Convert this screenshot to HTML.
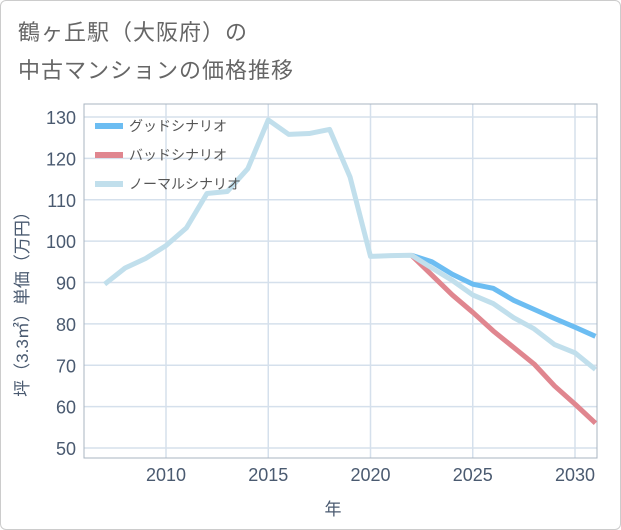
<!DOCTYPE html>
<html><head><meta charset="utf-8"><style>
body{margin:0;background:#fff;}
#wrap{position:relative;width:619px;height:528px;border:1px solid #ccc;border-radius:6px;background:#fff;font-family:"Liberation Sans","Noto Sans CJK JP",sans-serif;}
.t{position:absolute;left:17px;color:#666;font-size:22px;letter-spacing:1px;}
</style></head><body>
<div id="wrap">
<div class="t" style="top:14px">鶴ヶ丘駅（大阪府）の</div>
<div class="t" style="top:52px">中古マンションの価格推移</div>
<svg id="c" width="621" height="530" style="position:absolute;left:-1px;top:-1px"></svg>
</div>
<script>
const years=[2007,2008,2009,2010,2011,2012,2013,2014,2015,2016,2017,2018,2019,2020,2021,2022,2023,2024,2025,2026,2027,2028,2029,2030,2031];
const normal=[89.6,93.5,95.8,98.9,103.2,111.5,112,117.5,129.3,125.8,126,127,115.5,96.3,96.5,96.6,93.5,90.5,87,84.9,81.5,78.8,75,73,69];
const futureYears=[2022,2023,2024,2025,2026,2027,2028,2029,2030,2031];
const good=[96.6,95,92,89.6,88.6,85.7,83.5,81.3,79.2,77];
const bad=[96.6,91.8,87,82.8,78.3,74.3,70.3,65,60.6,56];
const yTicks=[50,60,70,80,90,100,110,120,130];
const xTicks=[2010,2015,2020,2025,2030];
const L=84,R=597,T=104,B=458;
const X=y=>166+(y-2010)*20.45;
const Y=v=>448-(v-50)*4.1375;
const s=document.getElementById('c');const NS='http://www.w3.org/2000/svg';
function mk(t,a,p){const e=document.createElementNS(NS,t);for(const k in a)e.setAttribute(k,a[k]);(p||s).appendChild(e);return e;}
yTicks.forEach(v=>{const l=mk('line',{x1:L,x2:R,y1:Y(v),y2:Y(v),stroke:'#d5e0ec','stroke-width':1.5});

const t=mk('text',{x:L-8,y:Y(v)+7,'text-anchor':'end','font-size':18,fill:'#4a5a70'});t.textContent=v;
});
xTicks.forEach(v=>{const l=mk('line',{x1:X(v),x2:X(v),y1:T,y2:B,stroke:'#d5e0ec','stroke-width':1.5});

const t=mk('text',{x:X(v),y:B+23,'text-anchor':'middle','font-size':18,fill:'#4a5a70'});t.textContent=v;
});
const fr=mk('rect',{x:L,y:T,width:R-L,height:B-T,fill:'none',stroke:'#aab4c0','stroke-width':1});

function line(xs,vs,c,name){const p=mk('polyline',{points:xs.map((y,i)=>X(y)+','+Y(vs[i])).join(' '),fill:'none',stroke:c,'stroke-width':5,'stroke-linejoin':'round'});
}
line(futureYears,good,'#6cbdf2','good-scenario-line');
line(futureYears,bad,'#e0868f','bad-scenario-line');
line(years,normal,'#c1dfec','normal-scenario-line');
[['グッドシナリオ','#6cbdf2'],['バッドシナリオ','#e0868f'],['ノーマルシナリオ','#c1dfec']].forEach((d,i)=>{
const y=126+i*29;const g=mk('g',{});
mk('line',{x1:95,x2:123,y1:y,y2:y,stroke:d[1],'stroke-width':6},g);
const t=mk('text',{x:129,y:y+5,'font-size':14,fill:'#555'},g);t.textContent=d[0];});
const yt=mk('text',{x:0,y:0,'font-size':17,fill:'#4a5a70','text-anchor':'middle',transform:'translate(28,300) rotate(-90)'});yt.textContent='坪（3.3㎡）単価（万円）';

const xt=mk('text',{x:333,y:515,'font-size':17,fill:'#4a5a70','text-anchor':'middle'});xt.textContent='年';

</script>
</body></html>
